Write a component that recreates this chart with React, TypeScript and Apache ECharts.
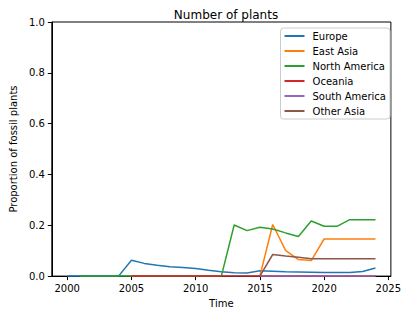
import React, { useEffect, useRef } from "react";
import * as echarts from "echarts";

const years = [2000, 2001, 2002, 2003, 2004, 2005, 2006, 2007, 2008, 2009, 2010, 2011, 2012, 2013, 2014, 2015, 2016, 2017, 2018, 2019, 2020, 2021, 2022, 2023, 2024];

const europe = [0, 0, 0, 0, 0, 0.062, 0.05, 0.043, 0.037, 0.034, 0.03, 0.023, 0.017, 0.013, 0.012, 0.021, 0.019, 0.017, 0.016, 0.015, 0.014, 0.014, 0.014, 0.018, 0.032];
const eastAsiaYears = [2015, 2016, 2017, 2018, 2019, 2020, 2021, 2022, 2023, 2024];
const eastAsia = [0, 0.203, 0.101, 0.065, 0.061, 0.146, 0.146, 0.146, 0.146, 0.146];
const northAmericaYears = [2001, 2002, 2003, 2004, 2005, 2006, 2007, 2008, 2009, 2010, 2011, 2012, 2013, 2014, 2015, 2016, 2017, 2018, 2019, 2020, 2021, 2022, 2023, 2024];
const northAmerica = [0, 0, 0, 0, 0, 0, 0, 0, 0, 0, 0, 0, 0.201, 0.179, 0.192, 0.185, 0.17, 0.156, 0.217, 0.196, 0.196, 0.222, 0.222, 0.222];
const oceaniaYears = [2005, 2006, 2007, 2008, 2009, 2010, 2011, 2012, 2013, 2014, 2015, 2016, 2017, 2018, 2019, 2020, 2021, 2022, 2023, 2024];
const oceania = [0, 0, 0, 0, 0, 0, 0, 0, 0, 0, 0, 0, 0, 0, 0, 0, 0, 0, 0, 0];
const southAmericaYears = [2015, 2016, 2017, 2018, 2019, 2020, 2021, 2022, 2023, 2024];
const southAmerica = [0, 0, 0, 0, 0, 0, 0, 0, 0, 0];
const otherAsiaYears = [2015, 2016, 2017, 2018, 2019, 2020, 2021, 2022, 2023, 2024];
const otherAsia = [0, 0.085, 0.079, 0.074, 0.068, 0.068, 0.068, 0.068, 0.068, 0.068];

const xTicks = [2000, 2005, 2010, 2015, 2020, 2025];

const seriesDefs = [
  { name: "Europe", x: years, y: europe, color: "#1f77b4" },
  { name: "East Asia", x: eastAsiaYears, y: eastAsia, color: "#ff7f0e" },
  { name: "North America", x: northAmericaYears, y: northAmerica, color: "#2ca02c" },
  { name: "Oceania", x: oceaniaYears, y: oceania, color: "#d62728" },
  { name: "South America", x: southAmericaYears, y: southAmerica, color: "#9467bd" },
  { name: "Other Asia", x: otherAsiaYears, y: otherAsia, color: "#8c564b" },
];

const FONT = "DejaVu Sans";

export default function App() {
  const ref = useRef<HTMLDivElement>(null);
  useEffect(() => {
    const chart = echarts.init(ref.current!, null, { renderer: "svg" });
    chart.setOption({
      animation: false,
      backgroundColor: "#fff",
      title: {
        text: "Number of plants",
        left: 221,
        textAlign: "center",
        top: 4,
        textStyle: { fontFamily: FONT, fontSize: 12, fontWeight: "normal", color: "#000" },
      },
      grid: {
        left: 46,
        top: 22,
        width: 350,
        height: 260,
        show: true,
        borderColor: "#000",
        borderWidth: 1,
        backgroundColor: "transparent",
      },
      legend: {
        orient: "vertical",
        right: 14,
        top: 28,
        itemWidth: 20,
        itemHeight: 2,
        itemGap: 3,
        icon: "rect",
        padding: [2, 4, 2, 4],
        backgroundColor: "rgba(255,255,255,0.8)",
        borderColor: "#cccccc",
        borderWidth: 1,
        borderRadius: 3,
        textStyle: { fontFamily: FONT, fontSize: 10, color: "#000", lineHeight: 12, padding: [0, 0, 0, 3] },
        data: seriesDefs.map((s) => s.name),
      },
      xAxis: {
        type: "value",
        min: 1998.8,
        max: 2025.2,
        name: "Time",
        nameLocation: "middle",
        nameGap: 21,
        nameTextStyle: { fontFamily: FONT, fontSize: 10, color: "#000" },
        splitLine: { show: false },
        axisLine: { show: true, onZero: false, lineStyle: { color: "#000", width: 1 } },
        axisTick: { show: true, length: 4, customValues: xTicks, lineStyle: { color: "#000" } },
        axisLabel: {
          customValues: xTicks,
          fontFamily: FONT,
          fontSize: 10,
          color: "#000",
          margin: 7,
          formatter: (v: number) => String(Math.round(v)),
        },
      },
      yAxis: {
        type: "value",
        min: 0,
        max: 1,
        interval: 0.2,
        name: "Proportion of fossil plants",
        nameLocation: "middle",
        nameGap: 32,
        nameTextStyle: { fontFamily: FONT, fontSize: 10, color: "#000" },
        splitLine: { show: false },
        axisLine: { show: true, lineStyle: { color: "#000", width: 1 } },
        axisTick: { show: true, length: 4, lineStyle: { color: "#000" } },
        axisLabel: {
          fontFamily: FONT,
          fontSize: 10,
          color: "#000",
          margin: 7,
          formatter: (v: number) => v.toFixed(1),
        },
      },
      series: seriesDefs.map((s) => ({
        name: s.name,
        type: "line",
        data: s.x.map((x, i) => [x, s.y[i]]),
        showSymbol: false,
        symbol: "none",
        color: s.color,
        lineStyle: { color: s.color, width: 1.5 },
        clip: false,
      })),
    });
    return () => chart.dispose();
  }, []);
  return <div ref={ref} style={{ width: 404, height: 313, position: "absolute", left: 0, top: 0 }} />;
}
